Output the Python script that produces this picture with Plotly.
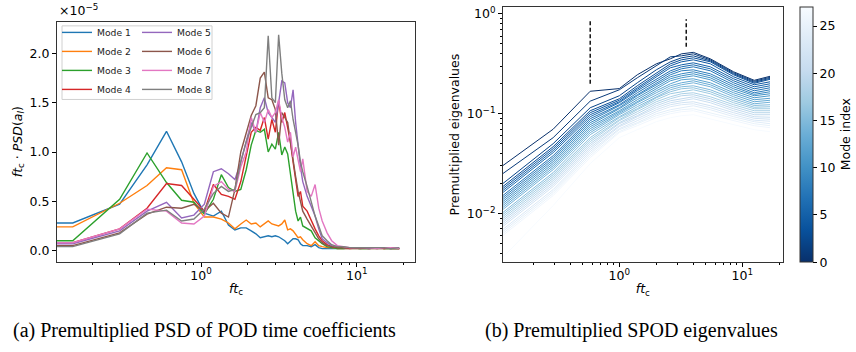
import numpy as np
import plotly.graph_objects as go
from plotly.colors import sample_colorscale

# ---------------- panel (a): premultiplied PSD of POD time coefficients (x1e-5) ----------------
psd_freq = [0.00, 0.15, 0.30, 0.45, 0.60,
            0.75, 0.90, 1.05, 1.20, 1.35,
            1.50, 1.65, 1.80, 1.95, 2.10,
            2.25, 2.40, 2.55, 2.70, 2.85,
            3.00, 3.15, 3.30, 3.45, 3.60,
            3.75, 3.90, 4.05, 4.20, 4.35,
            4.50, 4.80, 5.10, 5.40, 5.70,
            6.00, 6.45, 6.90, 7.50, 8.25,
            9.00, 10.5, 12.0, 13.5, 15.0,
            16.5, 18.75]

mode_names = ["Mode 1", "Mode 2", "Mode 3", "Mode 4", "Mode 5", "Mode 6", "Mode 7", "Mode 8"]

psd_mode1 = [0.28, 0.28, 0.47, 0.87, 1.21, 0.90, 0.58, 0.38, 0.35, 0.40,
             0.26, 0.21, 0.23, 0.23, 0.20, 0.17, 0.13, 0.14, 0.15, 0.14,
             0.15, 0.14, 0.12, 0.10, 0.07, 0.10, 0.12, 0.12, 0.11, 0.07,
             0.05, 0.05, 0.04, 0.06, 0.03, 0.02, 0.02, 0.02, 0.02, 0.015,
             0.02, 0.02, 0.015, 0.02, 0.02, 0.015, 0.02]
psd_mode2 = [0.24, 0.24, 0.48, 0.66, 0.84, 0.82, 0.48, 0.34, 0.34, 0.32,
             0.28, 0.22, 0.27, 0.31, 0.27, 0.28, 0.24, 0.27, 0.30, 0.27,
             0.26, 0.25, 0.27, 0.31, 0.21, 0.22, 0.20, 0.16, 0.13, 0.14,
             0.11, 0.07, 0.05, 0.09, 0.05, 0.04, 0.03, 0.03, 0.02, 0.02,
             0.02, 0.02, 0.02, 0.015, 0.02, 0.02, 0.02]
psd_mode3 = [0.10, 0.10, 0.52, 0.99, 0.69, 0.51, 0.49, 0.37, 0.52, 0.77,
             0.64, 0.60, 0.62, 0.82, 1.07, 1.22, 1.20, 1.23, 1.00, 1.08,
             1.03, 1.20, 0.97, 1.05, 0.98, 0.77, 0.62, 0.40, 0.30, 0.34,
             0.25, 0.22, 0.20, 0.13, 0.10, 0.07, 0.04, 0.03, 0.02, 0.02,
             0.03, 0.02, 0.02, 0.03, 0.02, 0.02, 0.02]
psd_mode4 = [0.08, 0.08, 0.22, 0.43, 0.68, 0.66, 0.52, 0.40, 0.67, 0.57,
             0.55, 0.52, 0.70, 0.95, 1.20, 1.25, 1.22, 1.35, 1.13, 1.33,
             1.20, 1.52, 1.30, 1.40, 1.25, 1.10, 0.90, 0.70, 0.55, 0.60,
             0.45, 0.40, 0.30, 0.22, 0.15, 0.10, 0.06, 0.04, 0.03, 0.03,
             0.02, 0.03, 0.02, 0.03, 0.02, 0.03, 0.02]
psd_mode5 = [0.07, 0.07, 0.20, 0.40, 0.49, 0.33, 0.36, 0.47, 0.80, 0.83,
             0.78, 0.72, 0.90, 1.10, 1.30, 1.20, 1.45, 1.55, 1.40, 1.35,
             1.30, 1.50, 1.72, 1.70, 1.50, 1.45, 1.63, 1.30, 1.05, 0.85,
             0.70, 0.55, 0.45, 0.35, 0.22, 0.12, 0.08, 0.05, 0.04, 0.03,
             0.03, 0.03, 0.02, 0.03, 0.03, 0.02, 0.03]
psd_mode6 = [0.05, 0.05, 0.18, 0.37, 0.44, 0.43, 0.47, 0.40, 0.48, 0.38,
             0.34, 0.62, 1.00, 1.20, 1.37, 1.47, 1.75, 1.81, 1.55, 1.53,
             1.43, 1.07, 1.40, 1.35, 1.30, 1.10, 0.90, 0.75, 0.60, 0.50,
             0.40, 0.32, 0.25, 0.18, 0.12, 0.08, 0.05, 0.04, 0.03, 0.03,
             0.03, 0.02, 0.03, 0.02, 0.03, 0.02, 0.02]
psd_mode7 = [0.08, 0.08, 0.22, 0.42, 0.40, 0.28, 0.27, 0.35, 0.65, 0.70,
             0.62, 0.60, 0.85, 1.00, 1.35, 1.20, 1.40, 1.30, 1.43, 1.35,
             1.40, 1.53, 1.35, 1.25, 1.10, 1.20, 0.95, 1.05, 0.92, 0.80,
             0.93, 0.60, 0.55, 0.67, 0.43, 0.30, 0.18, 0.10, 0.05, 0.04,
             0.03, 0.03, 0.03, 0.02, 0.03, 0.03, 0.02]
psd_mode8 = [0.04, 0.04, 0.17, 0.38, 0.41, 0.30, 0.32, 0.42, 0.58, 0.65,
             0.60, 0.62, 0.90, 1.10, 1.25, 1.38, 1.40, 1.45, 2.18, 1.55,
             1.50, 2.19, 1.80, 1.53, 1.45, 1.52, 1.33, 1.20, 1.07, 0.90,
             0.80, 0.65, 0.50, 0.35, 0.25, 0.15, 0.10, 0.06, 0.04, 0.04,
             0.03, 0.03, 0.03, 0.03, 0.03, 0.02, 0.03]
psd_series = [psd_mode1, psd_mode2, psd_mode3, psd_mode4,
              psd_mode5, psd_mode6, psd_mode7, psd_mode8]
psd_colors = ["#1f77b4", "#ff7f0e", "#2ca02c", "#d62728",
              "#9467bd", "#8c564b", "#e377c2", "#7f7f7f"]

# ---------------- panel (b): premultiplied SPOD eigenvalues (log10) ----------------
spod_freq = [0.113, 0.29, 0.58, 1.0, 1.4, 2.0, 2.6, 3.2, 4.0, 5.5, 8.5, 12.5, 16.8]
spod_log10 = [
    [-1.52, -1.155, -0.775, -0.748, -0.61, -0.50, -0.45, -0.40, -0.385, -0.45, -0.58, -0.665, -0.625],
    [-1.60, -1.24, -0.874, -0.76, -0.64, -0.52, -0.43, -0.42, -0.40, -0.46, -0.59, -0.675, -0.635],
    [-1.70, -1.30, -0.94, -0.82, -0.69, -0.56, -0.48, -0.44, -0.42, -0.47, -0.60, -0.685, -0.645],
    [-1.73, -1.33, -0.97, -0.85, -0.72, -0.59, -0.50, -0.46, -0.44, -0.48, -0.61, -0.695, -0.655],
    [-1.75, -1.35, -0.99, -0.865, -0.74, -0.61, -0.52, -0.48, -0.46, -0.50, -0.63, -0.71, -0.68],
    [-1.77, -1.37, -1.01, -0.88, -0.755, -0.63, -0.54, -0.51, -0.49, -0.53, -0.65, -0.73, -0.70],
    [-1.79, -1.39, -1.03, -0.89, -0.77, -0.65, -0.57, -0.53, -0.51, -0.55, -0.67, -0.75, -0.72],
    [-1.82, -1.42, -1.05, -0.91, -0.79, -0.67, -0.59, -0.55, -0.53, -0.57, -0.69, -0.77, -0.74],
    [-1.84, -1.44, -1.07, -0.92, -0.81, -0.69, -0.61, -0.57, -0.56, -0.60, -0.71, -0.79, -0.76],
    [-1.86, -1.46, -1.09, -0.94, -0.82, -0.71, -0.63, -0.60, -0.58, -0.62, -0.73, -0.806, -0.78],
    [-1.88, -1.48, -1.11, -0.95, -0.84, -0.73, -0.65, -0.62, -0.60, -0.64, -0.75, -0.82, -0.80],
    [-1.90, -1.50, -1.13, -0.97, -0.86, -0.75, -0.67, -0.64, -0.62, -0.66, -0.77, -0.84, -0.82],
    [-1.92, -1.52, -1.15, -0.98, -0.88, -0.77, -0.70, -0.66, -0.65, -0.69, -0.79, -0.86, -0.845],
    [-1.94, -1.54, -1.17, -1.00, -0.89, -0.79, -0.72, -0.69, -0.67, -0.71, -0.81, -0.88, -0.865],
    [-1.96, -1.56, -1.19, -1.01, -0.91, -0.81, -0.74, -0.71, -0.69, -0.73, -0.83, -0.90, -0.885],
    [-1.99, -1.59, -1.21, -1.03, -0.93, -0.83, -0.76, -0.73, -0.72, -0.76, -0.85, -0.917, -0.91],
    [-2.01, -1.61, -1.24, -1.04, -0.95, -0.84, -0.78, -0.75, -0.74, -0.78, -0.87, -0.935, -0.93],
    [-2.03, -1.63, -1.26, -1.06, -0.96, -0.86, -0.80, -0.78, -0.76, -0.80, -0.89, -0.95, -0.95],
    [-2.05, -1.65, -1.28, -1.07, -0.98, -0.88, -0.83, -0.80, -0.79, -0.83, -0.91, -0.97, -0.97],
    [-2.07, -1.67, -1.30, -1.09, -1.00, -0.90, -0.85, -0.82, -0.81, -0.85, -0.93, -0.99, -0.99],
    [-2.09, -1.69, -1.32, -1.10, -1.02, -0.92, -0.87, -0.85, -0.83, -0.87, -0.95, -1.01, -1.01],
    [-2.11, -1.71, -1.34, -1.12, -1.03, -0.94, -0.89, -0.87, -0.85, -0.89, -0.97, -1.03, -1.035],
    [-2.13, -1.73, -1.36, -1.13, -1.05, -0.96, -0.91, -0.89, -0.88, -0.92, -0.99, -1.046, -1.055],
    [-2.16, -1.76, -1.38, -1.15, -1.07, -0.98, -0.93, -0.91, -0.90, -0.94, -1.01, -1.065, -1.075],
    [-2.18, -1.78, -1.40, -1.16, -1.09, -1.00, -0.96, -0.94, -0.92, -0.96, -1.03, -1.08, -1.10],
    [-2.20, -1.80, -1.42, -1.18, -1.10, -1.02, -0.98, -0.96, -0.95, -0.99, -1.05, -1.10, -1.12],
    [-2.22, -1.82, -1.44, -1.19, -1.12, -1.04, -1.00, -0.98, -0.97, -1.01, -1.07, -1.12, -1.14],
    [-2.44, -1.92, -1.50, -1.24, -1.16, -1.08, -1.04, -1.02, -1.01, -1.05, -1.11, -1.16, -1.18],
]
mode_index = list(range(len(spod_log10)))

# dashed markers of the two peak frequencies
peak_freq = [0.58, 3.5]
peak_low = [0.20, 0.47]
peak_high = [0.885, 0.885]

# matplotlib "Blues" reversed (index 0 = darkest)
blues_r = [[0.0, "#08306b"], [0.125, "#08519c"], [0.25, "#2171b5"], [0.375, "#4292c6"],
           [0.5, "#6baed6"], [0.625, "#9ecae1"], [0.75, "#c6dbef"], [0.875, "#deebf7"],
           [1.0, "#f7fbff"]]

FONT = "DejaVu Sans"
W, H = 856, 352

fig = go.Figure()

# f = 0 cannot sit on a log axis: clip it far to the left (as matplotlib does)
psd_x = [f if f > 0 else 1e-6 for f in psd_freq]
for i, (name, vals, col) in enumerate(zip(mode_names, psd_series, psd_colors)):
    fig.add_trace(go.Scatter(
        x=psd_x, y=vals, mode="lines", name=name,
        line=dict(color=col, width=1.4),
        xaxis="x", yaxis="y",
        legend="legend" if i < 4 else "legend2",
    ))

cmax = 27
line_cols = sample_colorscale(blues_r, [m / cmax for m in mode_index])
for m, row, col in zip(mode_index, spod_log10, line_cols):
    fig.add_trace(go.Scatter(
        x=spod_freq, y=(10.0 ** np.array(row)).tolist(), mode="lines",
        line=dict(color=col, width=1.0), showlegend=False,
        xaxis="x2", yaxis="y2", hoverinfo="skip",
    ))

for f, lo, hi in zip(peak_freq, peak_low, peak_high):
    fig.add_trace(go.Scatter(
        x=[f, f], y=[lo, hi], mode="lines",
        line=dict(color="black", width=1.4, dash="4px,2.5px"),
        showlegend=False, xaxis="x2", yaxis="y2", hoverinfo="skip",
    ))

# colour bar for mode index
fig.add_trace(go.Scatter(
    x=[spod_freq[0]] * len(mode_index),
    y=[10.0 ** r[0] for r in spod_log10],
    mode="markers", showlegend=False, xaxis="x2", yaxis="y2", hoverinfo="skip",
    marker=dict(color=mode_index, colorscale=blues_r, cmin=0, cmax=cmax, opacity=0, size=1,
                showscale=True,
                colorbar=dict(
                    x=800 / W, xanchor="left", y=1 - 261.7 / H, yanchor="bottom",
                    len=(261.7 - 5) / H, lenmode="fraction", thickness=13.3,
                    xpad=0, ypad=0, outlinewidth=1, outlinecolor="#333",
                    tickmode="array", tickvals=[0, 5, 10, 15, 20, 25],
                    ticks="outside", ticklen=4, tickcolor="black",
                    tickfont=dict(family=FONT, size=12.5, color="black"),
                )),
))

axis_common = dict(showline=True, mirror=True, linecolor="#333", linewidth=1,
                   ticks="outside", ticklen=4, tickwidth=1, tickcolor="black",
                   showgrid=False, zeroline=False,
                   tickfont=dict(family=FONT, size=12.5, color="black"))

minor_log = [m * 10.0 ** e for e in (-3, -2, -1, 0, 1) for m in range(2, 10)]
minor_cfg = dict(ticks="outside", ticklen=2, tickwidth=0.8, tickcolor="black",
                 tickmode="array", tickvals=minor_log, showgrid=False)

xtitle = "<i>ft</i><sub>c</sub>"

fig.update_layout(
    width=W, height=H, margin=dict(l=0, r=0, t=0, b=0),
    paper_bgcolor="white", plot_bgcolor="white",
    font=dict(family=FONT, size=12.5, color="black"),
    xaxis=dict(domain=[57 / W, 415 / W], type="log", range=[-0.925, 1.374], anchor="y",
               tickmode="array", tickvals=[1, 10],
               ticktext=["10<sup>0</sup>", "10<sup>1</sup>"],
               minor=minor_cfg, ticklabelstandoff=-2,
               title=dict(text=xtitle, standoff=2, font=dict(family=FONT, size=12.5)),
               **axis_common),
    yaxis=dict(domain=[1 - 261 / H, 1 - 20 / H], range=[-0.111, 2.32], anchor="x",
               tickmode="array", tickvals=[0, 0.5, 1.0, 1.5, 2.0],
               ticktext=["0.0", "0.5", "1.0", "1.5", "2.0"],
               title=dict(text="<i>ft</i><sub>c</sub> · <i>PSD</i>(<i>a<sub>l</sub></i>)",
                          standoff=4, font=dict(family=FONT, size=12.5)),
               **axis_common),
    xaxis2=dict(domain=[503 / W, 782.7 / W], type="log", range=[-0.9455, 1.3285], anchor="y2",
                tickmode="array", tickvals=[1, 10],
                ticktext=["10<sup>0</sup>", "10<sup>1</sup>"],
                minor=minor_cfg, ticklabelstandoff=-2,
                title=dict(text=xtitle, standoff=2, font=dict(family=FONT, size=12.5)),
                **axis_common),
    yaxis2=dict(domain=[1 - 261.7 / H, 1 - 5 / H], type="log", range=[-2.488, 0.0698], anchor="x2",
                tickmode="array", tickvals=[0.01, 0.1, 1],
                ticktext=["10<sup>−2</sup>", "10<sup>−1</sup>", "10<sup>0</sup>"],
                minor=minor_cfg,
                title=dict(text="Premultiplied eigenvalues", standoff=4,
                           font=dict(family=FONT, size=12.5)),
                **axis_common),
    legend=dict(x=57 / W, y=1 - 16 / H, xanchor="left", yanchor="top",
                bgcolor="rgba(0,0,0,0)", borderwidth=0, tracegroupgap=0,
                font=dict(family=FONT, size=9.2, color="#222")),
    legend2=dict(x=137 / W, y=1 - 16 / H, xanchor="left", yanchor="top",
                 bgcolor="rgba(0,0,0,0)", borderwidth=0, tracegroupgap=0,
                 font=dict(family=FONT, size=9.2, color="#222")),
    shapes=[dict(type="rect", xref="paper", yref="paper",
                 x0=62 / W, x1=212 / W, y0=1 - 98 / H, y1=1 - 24 / H,
                 line=dict(color="#d0d0d0", width=1), fillcolor="rgba(255,255,255,0.85)",
                 layer="above")],
    annotations=[
        dict(text="×10<sup>−5</sup>", xref="paper", yref="paper", x=57 / W, y=1 - 18 / H,
             xanchor="left", yanchor="bottom", showarrow=False,
             font=dict(family=FONT, size=12.5, color="black")),
        dict(text="Mode index", xref="paper", yref="paper", x=845 / W, y=1 - 133 / H,
             xanchor="center", yanchor="middle", textangle=-90, showarrow=False,
             font=dict(family=FONT, size=12.5, color="black")),
        dict(text="(a) Premultiplied PSD of POD time coefficients", xref="paper", yref="paper",
             x=204 / W, y=1 - 330 / H, xanchor="center", yanchor="middle", showarrow=False,
             font=dict(family="Liberation Serif", size=20, color="black")),
        dict(text="(b) Premultiplied SPOD eigenvalues", xref="paper", yref="paper",
             x=631 / W, y=1 - 330 / H, xanchor="center", yanchor="middle", showarrow=False,
             font=dict(family="Liberation Serif", size=20, color="black")),
    ],
)

# remove the browser's default 8px page margin so the figure sits at the window origin
fig.write_html("out.html", config={"displayModeBar": False},
               post_script="document.body.style.margin='0px';")
